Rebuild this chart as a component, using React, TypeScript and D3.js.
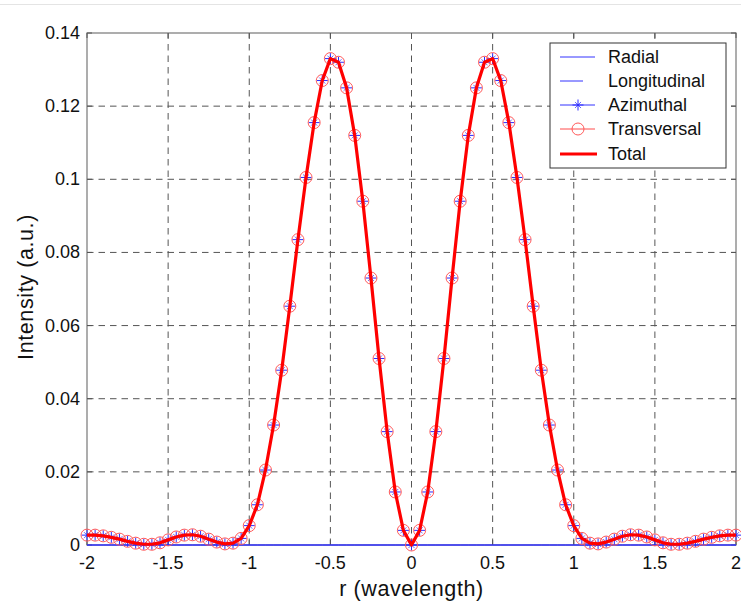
import React from 'react';
import * as d3 from 'd3';

// sample positions, r in wavelengths
const rSamples: number[] = d3.range(81).map(i => +(-2 + i * 0.05).toFixed(2));

// intensity, r = -2 ... 2 step 0.05
const totalIntensity: number[] = [
  0.0027, 0.0027, 0.0025, 0.0021, 0.0016, 0.0010, 0.0005, 0.0002, 0.0002, 0.0006,
  0.0014, 0.0022, 0.0027, 0.0028, 0.0024, 0.0016, 0.0008, 0.0003, 0.0005, 0.0018,
  0.0053, 0.0110, 0.0205, 0.0328, 0.0478, 0.0653, 0.0835, 0.1005, 0.1155, 0.1270,
  0.1330, 0.1320, 0.1250, 0.1120, 0.0940, 0.0730, 0.0510, 0.0310, 0.0145, 0.0040,
  0.0000,
  0.0040, 0.0145, 0.0310, 0.0510, 0.0730, 0.0940, 0.1120, 0.1250, 0.1320, 0.1330,
  0.1270, 0.1155, 0.1005, 0.0835, 0.0653, 0.0478, 0.0328, 0.0205, 0.0110, 0.0053,
  0.0018, 0.0005, 0.0003, 0.0008, 0.0016, 0.0024, 0.0028, 0.0027, 0.0022, 0.0014,
  0.0006, 0.0002, 0.0002, 0.0005, 0.0010, 0.0016, 0.0021, 0.0025, 0.0027, 0.0027,
];
const azimuthalIntensity: number[] = totalIntensity;
const transversalIntensity: number[] = totalIntensity;
const radialIntensity: number[] = [
  0, 0, 0, 0, 0, 0, 0, 0, 0, 0, 0, 0, 0, 0, 0, 0, 0, 0, 0, 0,
  0, 0, 0, 0, 0, 0, 0, 0, 0, 0, 0, 0, 0, 0, 0, 0, 0, 0, 0, 0,
  0,
  0, 0, 0, 0, 0, 0, 0, 0, 0, 0, 0, 0, 0, 0, 0, 0, 0, 0, 0, 0,
  0, 0, 0, 0, 0, 0, 0, 0, 0, 0, 0, 0, 0, 0, 0, 0, 0, 0, 0, 0,
];
const longitudinalIntensity: number[] = radialIntensity;

const xTicks = [-2, -1.5, -1, -0.5, 0, 0.5, 1, 1.5, 2];
const yTicks = [0, 0.02, 0.04, 0.06, 0.08, 0.1, 0.12, 0.14];
const legendLabels = ['Radial', 'Longitudinal', 'Azimuthal', 'Transversal', 'Total'];

const W = 741, H = 606;
const margin = { top: 33, right: 5, bottom: 61, left: 87 };
const font = 'Arial, "Liberation Sans", sans-serif';

function Asterisk({ x, y, s, color }: { x: number; y: number; s: number; color: string }) {
  const d = s * 0.55;
  return (
    <g stroke={color} strokeWidth={1}>
      <line x1={x - s} y1={y} x2={x + s} y2={y} />
      <line x1={x} y1={y - s} x2={x} y2={y + s} />
      <line x1={x - d} y1={y - d} x2={x + d} y2={y + d} strokeOpacity={0.7} />
      <line x1={x - d} y1={y + d} x2={x + d} y2={y - d} strokeOpacity={0.7} />
    </g>
  );
}

export default function App() {
  const x = d3.scaleLinear().domain([-2, 2]).range([margin.left, W - margin.right]);
  const y = d3.scaleLinear().domain([0, 0.14]).range([H - margin.bottom, margin.top]);
  const line = (vals: number[]) =>
    d3.line<number>().x((_, i) => x(rSamples[i])).y(v => y(v))(vals) || '';

  const x0 = x(-2), x1 = x(2), y0 = y(0), y1 = y(0.14);
  const gridColor = '#555';

  const lg = { x: 550, y: 43, w: 176, h: 125 };
  const rowY = [57, 81, 105, 129, 154];

  return (
    <svg width={W} height={H} style={{ position: 'absolute', left: 0, top: 0, background: '#fff' }}
      fontFamily={font}>
      <line x1={0} x2={W} y1={4.5} y2={4.5} stroke="#e4e4e4" />

      {/* grid */}
      <g stroke={gridColor} strokeDasharray="6.5,5" strokeWidth={1}>
        {xTicks.slice(1, -1).map(t => (
          <line key={'gx' + t} x1={x(t)} x2={x(t)} y1={y0} y2={y1} />
        ))}
        {yTicks.slice(1, -1).map(t => (
          <line key={'gy' + t} x1={x0} x2={x1} y1={y(t)} y2={y(t)} />
        ))}
      </g>

      {/* axes box */}
      <rect x={x0} y={y1} width={x1 - x0} height={y0 - y1} fill="none" stroke="#777" strokeWidth={1.2} />
      <g stroke="#555">
        {xTicks.map(t => (
          <g key={'tx' + t}>
            <line x1={x(t)} x2={x(t)} y1={y0} y2={y0 - 5} />
            <line x1={x(t)} x2={x(t)} y1={y1} y2={y1 + 5} />
          </g>
        ))}
        {yTicks.map(t => (
          <g key={'ty' + t}>
            <line x1={x0} x2={x0 + 5} y1={y(t)} y2={y(t)} />
            <line x1={x1} x2={x1 - 5} y1={y(t)} y2={y(t)} />
          </g>
        ))}
      </g>

      {/* series */}
      <path d={line(radialIntensity)} fill="none" stroke="#3333ff" strokeWidth={1} />
      <path d={line(longitudinalIntensity)} fill="none" stroke="#3333ff" strokeWidth={1} />
      <path d={line(azimuthalIntensity)} fill="none" stroke="#3333ff" strokeWidth={1} />
      {azimuthalIntensity.map((v, i) => (
        <Asterisk key={'a' + i} x={x(rSamples[i])} y={y(v)} s={5.5} color="#2a2aff" />
      ))}
      <path d={line(transversalIntensity)} fill="none" stroke="#ff4d4d" strokeWidth={1} />
      {transversalIntensity.map((v, i) => (
        <circle key={'t' + i} cx={x(rSamples[i])} cy={y(v)} r={6} fill="none" stroke="#ff5a5a" strokeWidth={1} />
      ))}
      <path d={line(totalIntensity)} fill="none" stroke="#ff0000" strokeWidth={3.2} strokeLinejoin="round" />

      {/* tick labels */}
      <g fontSize={18} fill="#111">
        {xTicks.map(t => (
          <text key={'lx' + t} x={x(t)} y={y0 + 24} textAnchor="middle">{String(t)}</text>
        ))}
        {yTicks.map(t => (
          <text key={'ly' + t} x={x0 - 7} y={y(t) + 6} textAnchor="end">{String(t)}</text>
        ))}
      </g>
      <text x={(x0 + x1) / 2} y={596} textAnchor="middle" fontSize={21.5} letterSpacing={0.6} fill="#111">
        r (wavelength)
      </text>
      <text transform={`translate(33,287) rotate(-90)`} textAnchor="middle" fontSize={21.5} letterSpacing={0.6}
        fill="#111">
        Intensity (a.u.)
      </text>

      {/* legend */}
      <rect x={lg.x} y={lg.y} width={lg.w} height={lg.h} fill="#fff" stroke="#333" strokeWidth={1} />
      <line x1={560} x2={595} y1={rowY[0]} y2={rowY[0]} stroke="#3333ff" />
      <line x1={560} x2={583} y1={rowY[1]} y2={rowY[1]} stroke="#3333ff" />
      <line x1={560} x2={595} y1={rowY[2]} y2={rowY[2]} stroke="#3333ff" />
      <Asterisk x={578} y={rowY[2]} s={5.5} color="#2a2aff" />
      <line x1={560} x2={595} y1={rowY[3]} y2={rowY[3]} stroke="#ff4d4d" />
      <circle cx={578} cy={rowY[3]} r={6} fill="none" stroke="#ff5a5a" />
      <line x1={560} x2={597} y1={rowY[4]} y2={rowY[4]} stroke="#ff0000" strokeWidth={3.2} />
      <g fontSize={18} fill="#111">
        {legendLabels.map((l, i) => (
          <text key={l} x={608} y={rowY[i] + 6}>{l}</text>
        ))}
      </g>
    </svg>
  );
}
